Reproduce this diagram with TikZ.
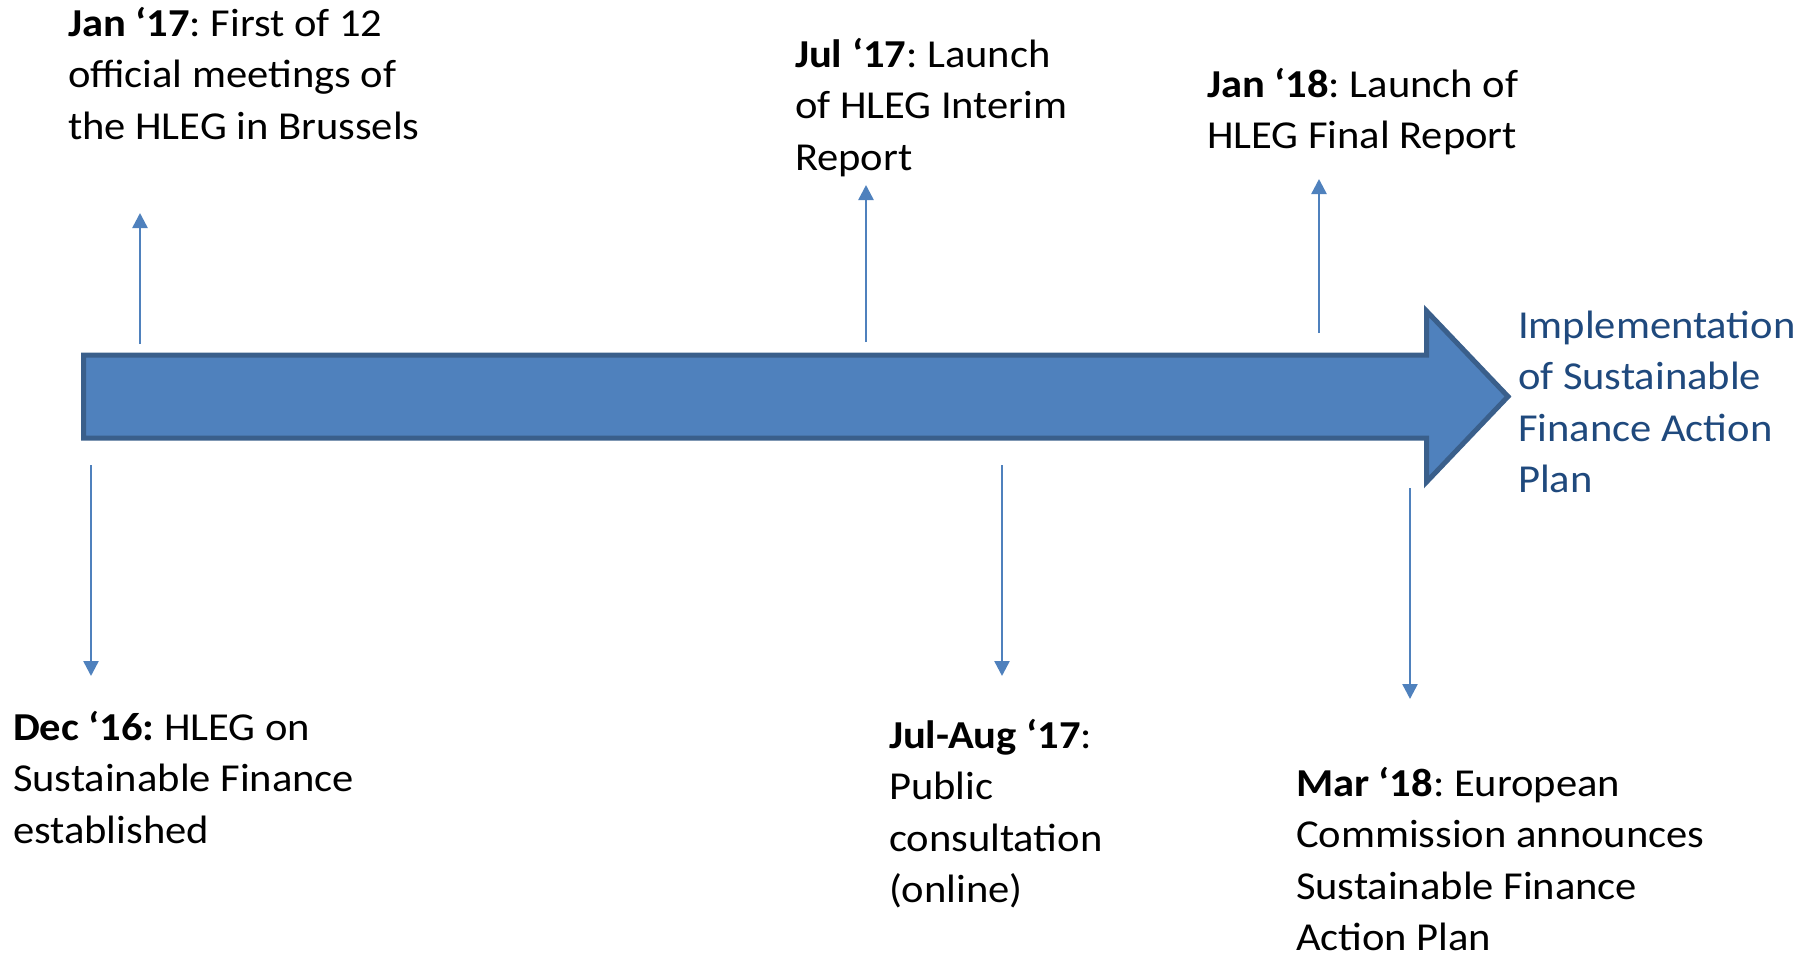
\documentclass[tikz,border=0pt]{standalone}
\usepackage{fontspec}
\setmainfont{Carlito}[FakeStretch=1.075]
\usetikzlibrary{arrows.meta}
\definecolor{barfill}{HTML}{4F81BD}
\definecolor{barline}{HTML}{3A5F8B}
\definecolor{darkblue}{HTML}{1F497D}
\newcommand{\lbl}[1]{\parbox[t]{300pt}{\raggedright\frenchspacing\fontsize{19.8}{25.8}\selectfont #1}}
\tikzset{
  evt/.style={anchor=base west, inner sep=0pt, outer sep=0pt, text=black},
  tick/.style={draw=barfill, line width=1.25pt, -{Triangle[width=7.5pt,length=7.5pt]}},
  bigarrow/.style={fill=barfill, draw=barline, line width=2.5pt, line join=miter}
}
\begin{document}
\begin{tikzpicture}[x=0.5pt,y=-0.5pt]
\useasboundingbox (0,0) rectangle (1814,953);
% main arrow
\draw[bigarrow] (83.5,355) -- (1426.5,355) -- (1426.5,311) -- (1508,396.5)
  -- (1426.5,482) -- (1426.5,438) -- (83.5,438) -- cycle;
% labels
\node[evt] (jan17) at (68,36) {\lbl{\textbf{Jan ‘17}: First of 12\\official meetings of\\the HLEG in Brussels}};
\node[evt] (jul17) at (795,67) {\lbl{\textbf{Jul ‘17}: Launch\\of HLEG Interim\\Report}};
\node[evt] (jan18) at (1207,97) {\lbl{\textbf{Jan ‘18}: Launch of\\HLEG Final Report}};
\node[evt] (dec16) at (13,740) {\lbl{\textbf{Dec ‘16:} HLEG on\\Sustainable Finance\\established}};
\node[evt] (julaug) at (889,748) {\lbl{\textbf{Jul-Aug ‘17}:\\Public\\consultation\\(online)}};
\node[evt] (mar18) at (1296,796) {\lbl{\textbf{Mar ‘18}: European\\Commission announces\\Sustainable Finance\\Action Plan}};
\node[evt, text=darkblue] (impl) at (1518,338) {\lbl{Implementation\\of Sustainable\\Finance Action\\Plan}};
% tick coordinates
\coordinate (a1s) at (140,344); \coordinate (a1e) at (140,213);
\coordinate (a2s) at (866,342); \coordinate (a2e) at (866,185);
\coordinate (a3s) at (1319,333); \coordinate (a3e) at (1319,179);
\coordinate (b1s) at (91,465); \coordinate (b1e) at (91,676);
\coordinate (b2s) at (1002,465); \coordinate (b2e) at (1002,676);
\coordinate (b3s) at (1410,488); \coordinate (b3e) at (1410,699);
\draw[tick] (a1s) -- (a1e);
\draw[tick] (a2s) -- (a2e);
\draw[tick] (a3s) -- (a3e);
\draw[tick] (b1s) -- (b1e);
\draw[tick] (b2s) -- (b2e);
\draw[tick] (b3s) -- (b3e);
\end{tikzpicture}
\end{document}
